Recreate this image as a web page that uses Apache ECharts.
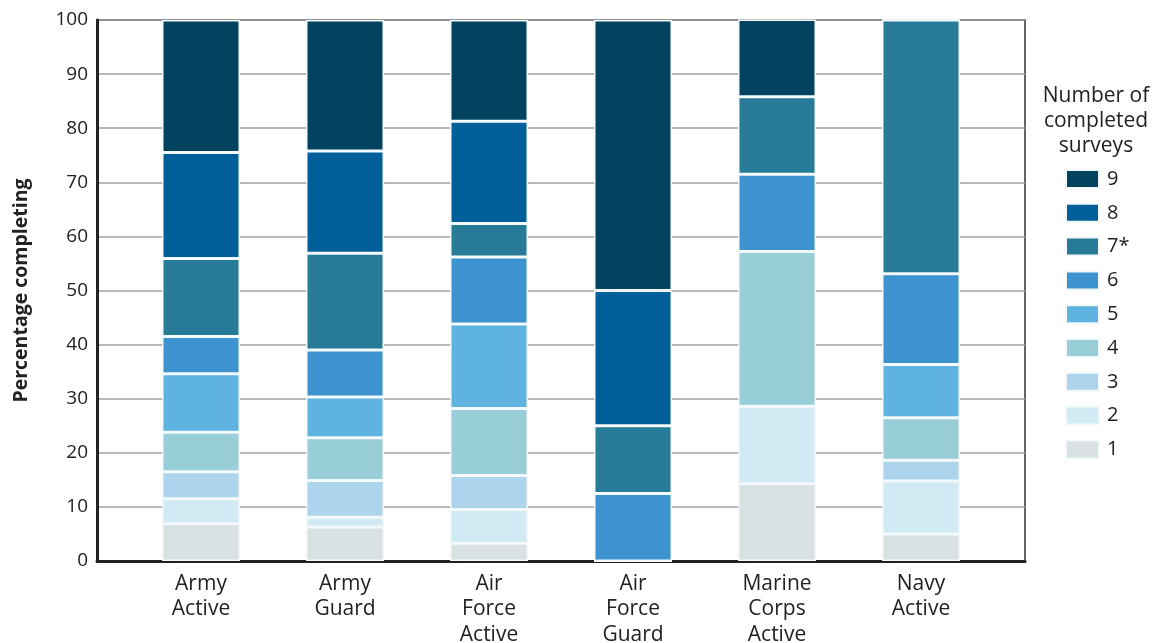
<!DOCTYPE html>
<html>
<head>
<meta charset="utf-8">
<script src="https://cdn.jsdelivr.net/npm/echarts@6/dist/echarts.min.js"></script>
<style>html,body{margin:0;padding:0;background:#fff;}#c{width:1153px;height:643px;}</style>
</head>
<body>
<div id="c"></div>
<script>
var categories = ["Army\nActive", "Army\nGuard", "Air\nForce\nActive", "Air\nForce\nGuard", "Marine\nCorps\nActive", "Navy\nActive"];
var seriesNames = ["1", "2", "3", "4", "5", "6", "7*", "8", "9"];
var s1 = [6.9, 6.3, 3.3, 0, 14.3, 5.0];
var s2 = [4.6, 1.8, 6.2, 0, 14.3, 9.8];
var s3 = [5.0, 6.8, 6.3, 0, 0, 3.8];
var s4 = [7.3, 7.9, 12.4, 0, 28.6, 7.9];
var s5 = [10.8, 7.5, 15.6, 0, 0, 9.8];
var s6 = [6.9, 8.7, 12.4, 12.5, 14.3, 16.8];
var s7 = [14.4, 17.9, 6.2, 12.5, 14.3, 46.9];
var s8 = [19.6, 18.9, 18.9, 25.0, 0, 0];
var s9 = [24.5, 24.2, 18.7, 50.0, 14.3, 0];
var seriesValues = [s1, s2, s3, s4, s5, s6, s7, s8, s9];
var colors = ["#d9e1e5", "#d1ebf4", "#acd4ed", "#98ced8", "#5fb3e1", "#3c93ce", "#287b98", "#01609a", "#02435f"];
var yTicks = [0, 10, 20, 30, 40, 50, 60, 70, 80, 90, 100];

var font = "'Open Sans', 'Noto Sans', sans-serif";
var chart = echarts.init(document.getElementById('c'), null, {renderer: 'canvas'});

var series = seriesNames.map(function (n, i) {
  return {
    name: n,
    type: 'bar',
    stack: 'total',
    xAxisIndex: 1,
    yAxisIndex: 1,
    barWidth: 78,
    data: seriesValues[i],
    itemStyle: {color: colors[i], borderColor: '#f4f9fb', borderWidth: 1.5},
    emphasis: {disabled: true}
  };
});

chart.setOption({
  animation: false,
  color: colors,
  textStyle: {fontFamily: font},
  title: {
    text: 'Number of\ncompleted\nsurveys',
    left: 1096,
    top: 84,
    padding: 0,
    textAlign: 'center',
    textStyle: {fontFamily: font, fontSize: 21, fontWeight: 'normal', color: '#222', lineHeight: 25}
  },
  legend: {
    orient: 'vertical',
    left: 1065,
    top: 169,
    padding: 0,
    itemWidth: 33,
    itemHeight: 18,
    itemGap: 13.8,
    icon: 'rect',
    data: seriesNames.slice().reverse(),
    textStyle: {fontFamily: font, fontSize: 20, color: '#222', padding: [0, 0, 0, 3]},
    selectedMode: false
  },
  grid: [
    {left: 97, right: 128, top: 20, bottom: 82, outerBoundsMode: 'none', containLabel: false, show: true, borderColor: '#333', borderWidth: 1.5, backgroundColor: 'transparent'},
    {left: 129, right: 160, top: 20, bottom: 82, outerBoundsMode: 'none', containLabel: false}
  ],
  xAxis: [
    {type: 'value', gridIndex: 0, min: 0, max: 1, axisLine: {show: true, onZero: false, lineStyle: {color: '#222', width: 3}}, axisTick: {show: false}, axisLabel: {show: false}, splitLine: {show: false}},
    {type: 'category', gridIndex: 1, data: categories, axisLine: {show: false}, axisTick: {show: false},
     axisLabel: {fontFamily: font, fontSize: 21, color: '#222', lineHeight: 25.5, margin: 10, interval: 0}}
  ],
  yAxis: [
    {type: 'value', gridIndex: 0, min: yTicks[0], max: yTicks[yTicks.length - 1], interval: 10,
     name: 'Percentage completing', nameLocation: 'middle', nameGap: 66,
     nameTextStyle: {fontFamily: font, fontSize: 19.5, fontWeight: 'bold', color: '#222'},
     axisLine: {show: true, lineStyle: {color: '#222', width: 3}}, axisTick: {show: false},
     axisLabel: {fontFamily: font, fontSize: 19, color: '#222', margin: 9},
     splitLine: {show: true, lineStyle: {color: '#a0a0a0', width: 1.5}}},
    {type: 'value', gridIndex: 1, min: 0, max: 100, show: false, splitLine: {show: false}}
  ],
  series: series
});
</script>
</body>
</html>
